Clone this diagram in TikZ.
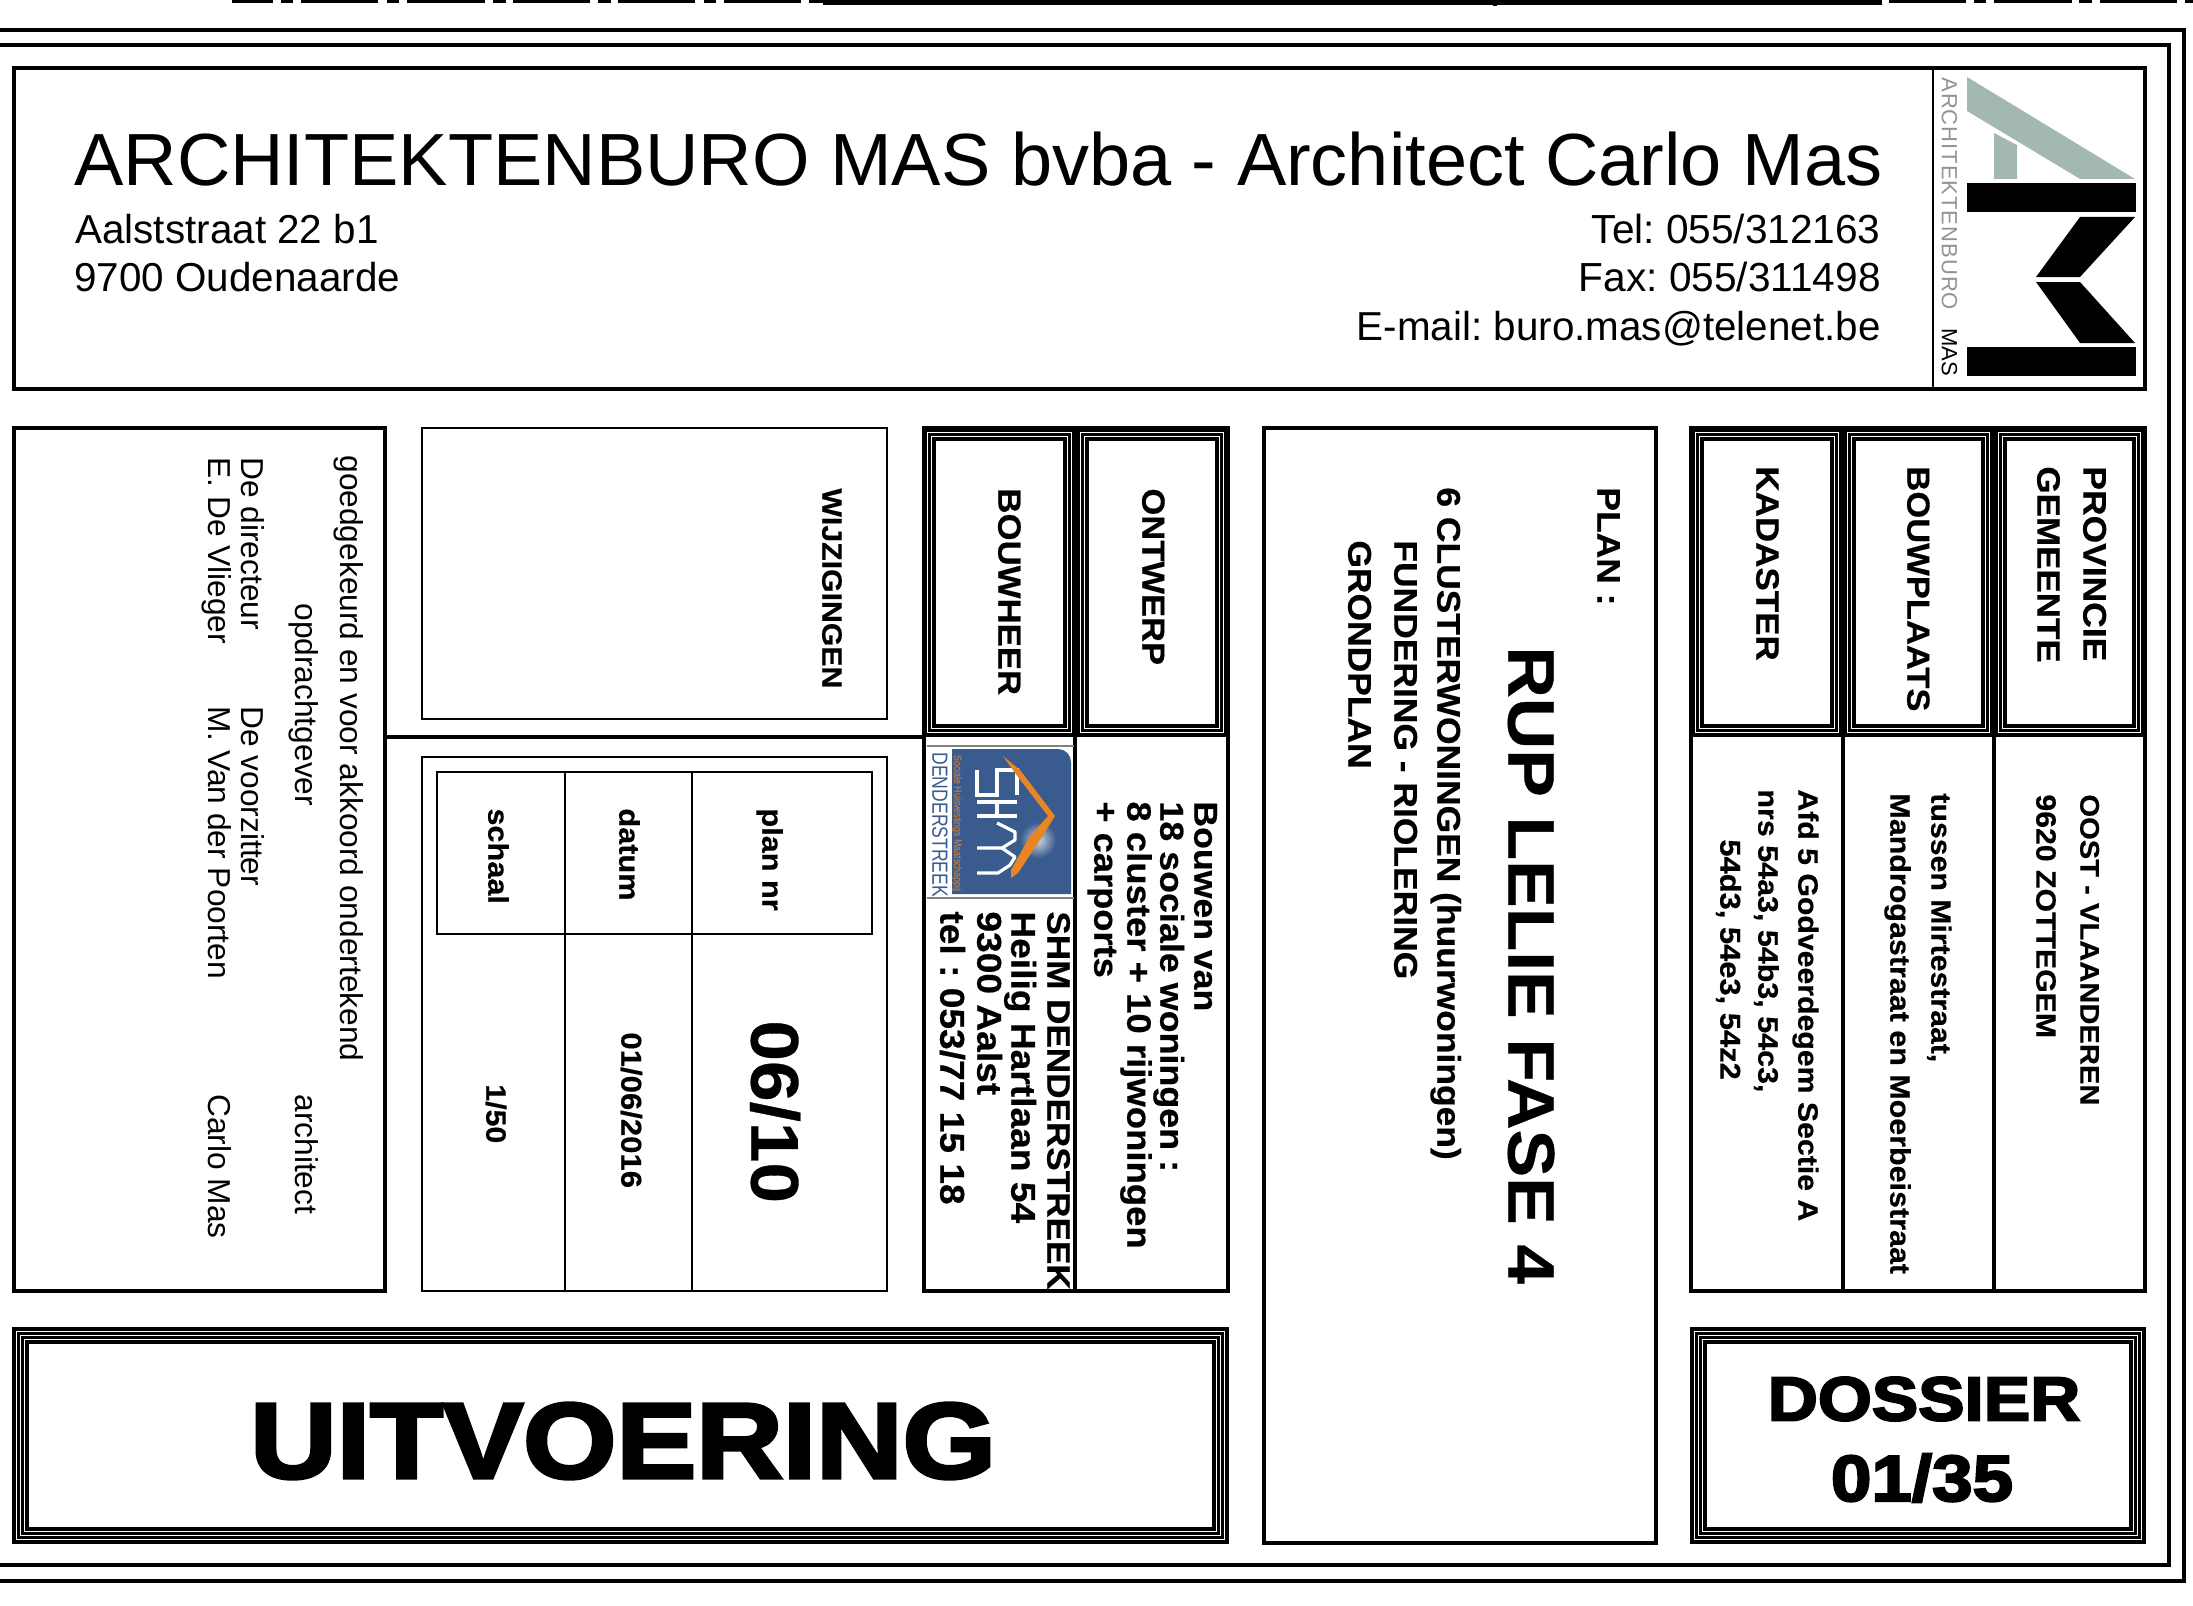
\documentclass[tikz,border=0pt]{standalone}
\usepackage{fontspec}
\setmainfont{Liberation Sans}
\newfontfamily\hvy[FakeBold=3.4,FakeStretch=1.12]{Liberation Sans Bold}
\newfontfamily\bdf[FakeBold=0.5,FakeStretch=1.08]{Liberation Sans Bold}
\definecolor{logogray}{RGB}{163,184,177}
\definecolor{shmblue}{RGB}{58,91,141}
\definecolor{shmorange}{RGB}{232,134,38}
\newcommand{\sz}[1]{\frenchspacing\fontsize{#1}{#1}\selectfont}
\newcommand{\tframe}[4]{%
  \draw[line width=6.5pt,black] (#1+6.5,#2+6.5) rectangle (#3-6.5,#4-6.5);
  \draw[line width=0.4pt,white] (#1+4.3,#2+4.3) rectangle (#3-4.3,#4-4.3);
  \draw[line width=0.4pt,white] (#1+8.7,#2+8.7) rectangle (#3-8.7,#4-8.7);}
\newcommand{\qframe}[4]{%
  \draw[line width=8.5pt,black] (#1+8.5,#2+8.5) rectangle (#3-8.5,#4-8.5);
  \draw[line width=0.4pt,white] (#1+4.3,#2+4.3) rectangle (#3-4.3,#4-4.3);
  \draw[line width=0.4pt,white] (#1+8.5,#2+8.5) rectangle (#3-8.5,#4-8.5);
  \draw[line width=0.4pt,white] (#1+12.8,#2+12.8) rectangle (#3-12.8,#4-12.8);}
\newcommand{\rt}[6]{\node[rtext,#6] (#1) at (#2-1.5,#3) {\sz{#4}#5};}
\begin{document}
\begin{tikzpicture}[x=0.5pt,y=-0.5pt,
  rtext/.style={rotate=-90,anchor=west,inner sep=0pt,text height=0.72em,text depth=0.0em},
  htext/.style={anchor=base west,inner sep=0pt},
  rtxt/.style={anchor=base east,inner sep=0pt},
  reg/.style={font=\normalfont},
  bld/.style={font=\bdf},
  hb/.style={font=\hvy},
  box/.style={draw=black,line width=1.6pt},
  thin box/.style={draw=black,line width=0.7pt},
  frame line/.style={draw=black,line width=1.8pt}]
\useasboundingbox (0,0) rectangle (2193,1605);
% clipped top line
\begin{scope}
\clip (0,0) rectangle (2193,1605);
\draw[line width=3pt] (232,0) -- (273,0) (281,0) -- (293,0) (301,0) -- (378,0) (387,0) -- (399,0) (407,0) -- (485,0) (493,0) -- (506,0) (513,0) -- (590,0) (598,0) -- (611,0) (618,0) -- (695,0) (704,0) -- (716,0) (724,0) -- (801,0) (809,0) -- (823,0) (1889,0) -- (1966,0) (1974,0) -- (1986,0) (1994,0) -- (2072,0) (2079,0) -- (2092,0) (2100,0) -- (2177,0) (2185,0) -- (2193,0);
\draw[line width=5pt] (823,0) -- (1882,0);
\fill[black] (1493,0) rectangle (1497,6);
% outer frames
\draw[frame line] (0,30) -- (2184,30) -- (2184,1581) -- (0,1581);
\draw[frame line] (0,45) -- (2169,45) -- (2169,1565) -- (0,1565);
\end{scope}
% header
\draw[box] (14,68) rectangle (2145,389);
\draw[line width=0.7pt] (1933,68) -- (1933,389);
\node[htext,reg] (title) at (74,186) {\sz{36.97}ARCHITEKTENBURO MAS bvba - Architect Carlo Mas};
\node[htext,reg] (addr1) at (75,243) {\sz{20.2}Aalststraat 22 b1};
\node[htext,reg] (addr2) at (74,292) {\sz{20.2}9700 Oudenaarde};
\node[rtxt,reg] (tel) at (1881,243) {\sz{20.3}Tel: 055/312163};
\node[rtxt,reg] (fax) at (1881,292) {\sz{20.3}Fax: 055/311498};
\node[rtxt,reg] (mail) at (1881,340) {\sz{20.2}E-mail: buro.mas@telenet.be};
% logo
\fill[logogray] (1967,77) -- (2135,179) -- (2080,179) -- (1967,111) -- cycle;
\fill[logogray] (1994,133) -- (2017,145) -- (2017,179) -- (1994,179) -- cycle;
\fill[black] (1967,183) rectangle (2136,212);
\fill[black] (2080,217) -- (2135,217) -- (2080,277) -- (2036,277) -- cycle;
\fill[black] (2036,282) -- (2080,282) -- (2135,343) -- (2080,343) -- cycle;
\fill[black] (1967,347) rectangle (2136,376);
\node[rtext,text=gray!85] (logotext) at (1949,77) {\sz{11}\addfontfeatures{LetterSpace=4.5}ARCHITEKTENBURO};
\node[rtext,text=black] (logomas) at (1949,328) {\sz{11}MAS};
% left box
\draw[box] (14,428) rectangle (385,1291);
\rt{g1}{349}{455}{15.85}{goedgekeurd en voor akkoord ondertekend}{reg}
\rt{g2}{304}{603}{15.85}{opdrachtgever}{reg}
\rt{g3}{304}{1094}{15.85}{architect}{reg}
\rt{g4}{250}{457}{15.85}{De directeur}{reg}
\rt{g5}{250}{706}{15.85}{De voorzitter}{reg}
\rt{g6}{217}{457}{15.85}{E. De Vlieger}{reg}
\rt{g7}{217}{706}{15.85}{M. Van der Poorten}{reg}
\rt{g8}{217}{1094}{15.85}{Carlo Mas}{reg}
\draw[box] (385,737) -- (924,737);
% wijzigingen
\draw[thin box] (422,428) rectangle (887,719);
\rt{wijz}{831}{488}{14}{WIJZIGINGEN}{bld}
% plan table
\draw[thin box] (422,757) rectangle (887,1291);
\draw[thin box] (437,772) rectangle (872,934);
\draw[thin box] (565,772) -- (565,1291);
\draw[thin box] (692,772) -- (692,1291);
\rt{pn}{771}{808}{14.2}{plan nr}{bld}
\rt{dat}{628}{808}{14.2}{datum}{bld}
\rt{sch}{497}{808}{14.2}{schaal}{bld}
\rt{nr}{760}{1020}{33.8}{06/10}{bld}
\rt{date}{630}{1032}{14.4}{01/06/2016}{bld}
\rt{sc}{495}{1084}{14}{1/50}{bld}
% bouwheer / ontwerp columns
\draw[box] (924,428) rectangle (1228,1291);
\draw[box] (1075,737) -- (1075,1291);
\tframe{923}{428}{1076}{737}
\tframe{1076}{428}{1228}{737}
\rt{bh}{1007}{488}{16.1}{BOUWHEER}{bld}
\rt{ow}{1151}{488}{16}{ONTWERP}{bld}
\rt{o1}{1203}{801}{16.5}{Bouwen van}{bld}
\rt{o2}{1169}{801}{16.6}{18 sociale woningen :}{bld}
\rt{o3}{1136}{801}{16.9}{8 cluster + 10 rijwoningen}{bld}
\rt{o4}{1103}{801}{16.8}{+ carports}{bld}
\rt{b1}{1056}{911}{16.25}{SHM DENDERSTREEK}{bld}
\rt{b2}{1020}{911}{17.2}{Heilig Hartlaan 54}{bld}
\rt{b3}{986}{911}{17.2}{9300 Aalst}{bld}
\rt{b4}{949}{911}{17.2}{tel : 053/77 15 18}{bld}
% SHM logo
\draw[line width=0.6pt,gray] (927,746) -- (1074,746) (927,898) -- (1074,898);
\fill[shmblue] (952,749) -- (1058,749) arc[start angle=90,end angle=0,x radius=13,y radius=-13] -- (1071,894) -- (952,894) -- cycle;
\shade[inner color=white!75!shmblue,outer color=shmblue] (1038,840) circle[radius=18];
\rt{den}{941}{752}{11}{\addfontfeatures{FakeStretch=0.8}DENDERSTREEK}{reg,text=shmblue}
\rt{hvm}{963}{755}{5.2}{\addfontfeatures{FakeStretch=0.85}Sociale Huisvestings Maatschappij}{reg,text=shmorange}
\draw[white,line width=1.6pt,line join=miter] (1017,795) -- (1017,770) -- (997,770) -- (997,795) -- (977,795) -- (977,770);
\draw[white,line width=1.6pt] (977,802) -- (1017,802) (977,816) -- (1017,816) (997,802) -- (997,816);
\draw[white,line width=1.6pt,line join=round] (997,823) -- (1015,832) -- (1015,840) -- (1002,848) -- (977,848);
\draw[white,line width=1.6pt,line join=round] (1002,848) -- (1015,857) -- (1010,865) -- (998,873) -- (977,873);
\fill[shmorange] (1003,756) -- (1020,770) -- (1055,816) -- (1040,840) -- (1018,873) -- (1011,878) -- (1011,870) -- (1030,836) -- (1048,816) -- (1015,773) -- cycle;
% plan column
\draw[box] (1264,428) rectangle (1656,1543);
\rt{pl}{1606}{487}{16.4}{PLAN :}{bld}
\rt{rup}{1517}{646}{33}{RUP LELIE FASE 4}{bld}
\rt{p1}{1446}{487}{16.4}{6 CLUSTERWONINGEN (huurwoningen)}{bld}
\rt{p2}{1403}{540}{16.4}{FUNDERING - RIOLERING}{bld}
\rt{p3}{1357}{540}{16.4}{GRONDPLAN}{bld}
% right columns
\draw[box] (1691,428) rectangle (2145,1291);
\draw[box] (1843,737) -- (1843,1291);
\draw[box] (1994,737) -- (1994,1291);
\tframe{1691}{428}{1843}{737}
\tframe{1843}{428}{1994}{737}
\tframe{1994}{428}{2145}{737}
\rt{kad}{1765}{466}{16.2}{KADASTER}{bld}
\rt{bpl}{1916}{466}{16}{BOUWPLAATS}{bld}
\rt{prov}{2092}{466}{16.4}{PROVINCIE}{bld}
\rt{gem}{2046}{466}{16.2}{GEMEENTE}{bld}
\rt{r1}{2089}{794}{13.5}{OOST - VLAANDEREN}{bld}
\rt{r2}{2045}{794}{14}{9620 ZOTTEGEM}{bld}
\rt{r3}{1940}{793}{14}{tussen Mirtestraat,}{bld}
\rt{r4}{1899}{793}{14.1}{Mandrogastraat en Moerbeistraat}{bld}
\rt{r5}{1807}{789}{14}{Afd 5 Godveerdegem Sectie A}{bld}
\rt{r6}{1767}{789}{14.1}{nrs 54a3, 54b3, 54c3,}{bld}
\rt{r7}{1729}{839}{14.3}{54d3, 54e3, 54z2}{bld}
% bottom boxes
\qframe{12}{1327}{1229}{1544}
\qframe{1690}{1327}{2146}{1544}
\node[hb,inner sep=0pt] (uit) at (623,1441) {\sz{53.5}UITVOERING};
\node[hb,inner sep=0pt] (dos) at (1924,1399) {\sz{31}DOSSIER};
\node[hb,inner sep=0pt] (num) at (1922,1478) {\sz{32.5}01/35};
\end{tikzpicture}
\end{document}
